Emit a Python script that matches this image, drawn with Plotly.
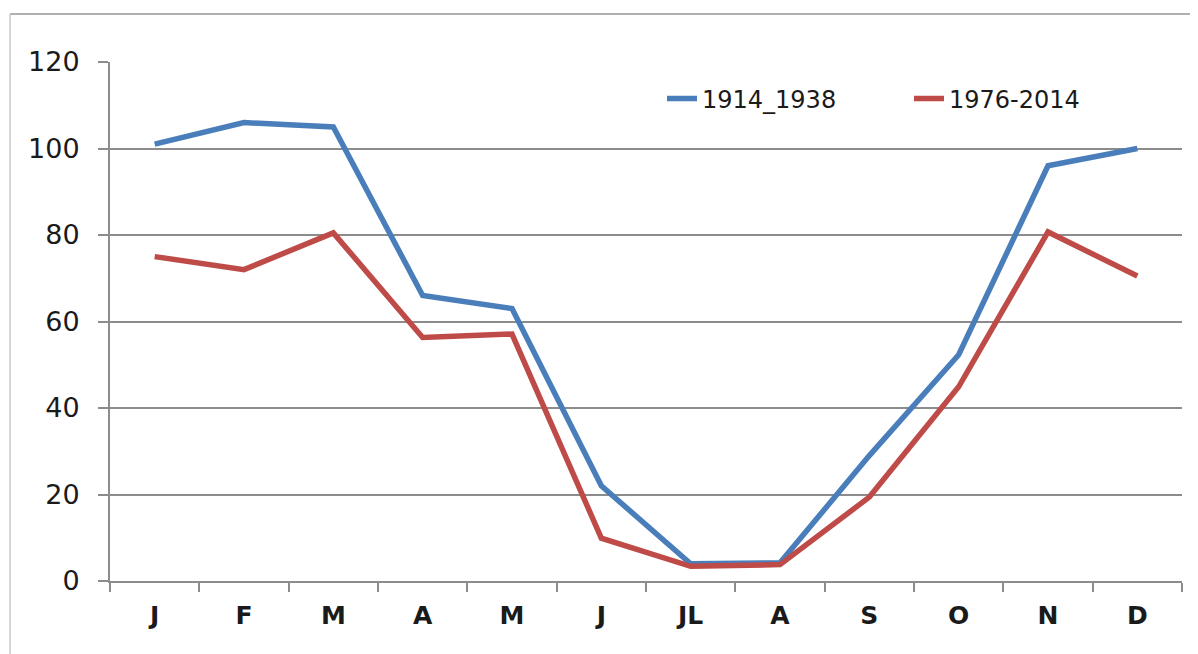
import plotly.graph_objects as go

months = ["J", "F", "M", "A", "M ", "J ", "JL", "A ", "S", "O", "N", "D"]
tick_text = ["J", "F", "M", "A", "M", "J", "JL", "A", "S", "O", "N", "D"]
series_1914_1938 = [101, 106, 105, 66, 63, 22, 4, 4.2, 29, 52.3, 96, 100]
series_1976_2014 = [75, 72, 80.5, 56.3, 57.1, 9.9, 3.4, 3.8, 19.4, 44.9, 80.7, 70.5]
y_ticks = [0, 20, 40, 60, 80, 100, 120]

fig = go.Figure()
fig.add_trace(go.Scatter(x=months, y=series_1914_1938, mode="lines", name="1914_1938",
                         line=dict(color="#4A7EBB", width=5.5)))
fig.add_trace(go.Scatter(x=months, y=series_1976_2014, mode="lines", name="1976-2014",
                         line=dict(color="#BE4B48", width=5.5)))

# page body has an 8px margin, so the figure is a bit smaller than the window
W, H = 1190, 646
L, R, T, B = 102, 16, 54, 73
pw = W - L - R
ph = H - T - B

fig.update_layout(
    width=W, height=H,
    margin=dict(l=L, r=R, t=T, b=B),
    paper_bgcolor="white", plot_bgcolor="white",
    font=dict(family="DejaVu Sans", size=24, color="#1a1a1a"),
    showlegend=True,
    legend=dict(orientation="h", x=(654 - L) / pw, y=(H - B - 91) / ph,
                xanchor="left", yanchor="middle", font=dict(size=24),
                bgcolor="rgba(0,0,0,0)", entrywidth=202, entrywidthmode="pixels"),
    xaxis=dict(type="category", categoryorder="array", categoryarray=months,
               tickvals=months, ticktext=tick_text,
               tickfont=dict(size=25, family="DejaVu Sans", weight="bold", color="#1a1a1a"),
               showgrid=False, showline=True, linecolor="#8c8c8c", linewidth=2,
               ticks="outside", tickson="boundaries", ticklen=9, tickwidth=2,
               tickcolor="#8c8c8c", ticklabelstandoff=11, range=[-0.5, 11.5]),
    yaxis=dict(range=[0, 120], tickvals=y_ticks, showgrid=True, gridcolor="#8c8c8c",
               tickfont=dict(size=27, family="DejaVu Sans", color="#1a1a1a"),
               gridwidth=1.5, showline=True, linecolor="#8c8c8c", linewidth=2,
               ticks="outside", ticklen=10, tickwidth=1.5, tickcolor="#8c8c8c",
               ticklabelstandoff=13, zeroline=False),
    shapes=[
        dict(type="line", xref="paper", yref="paper",
             x0=(2 - L) / pw, x1=1.2, y0=(H - B - 6) / ph, y1=(H - B - 6) / ph,
             line=dict(color="#b0b0b0", width=2)),
        dict(type="line", xref="paper", yref="paper",
             x0=(2 - L) / pw, x1=(2 - L) / pw, y0=-0.2, y1=(H - B - 6) / ph,
             line=dict(color="#c8c8c8", width=1.5)),
    ],
)

fig.write_html("out.html")
